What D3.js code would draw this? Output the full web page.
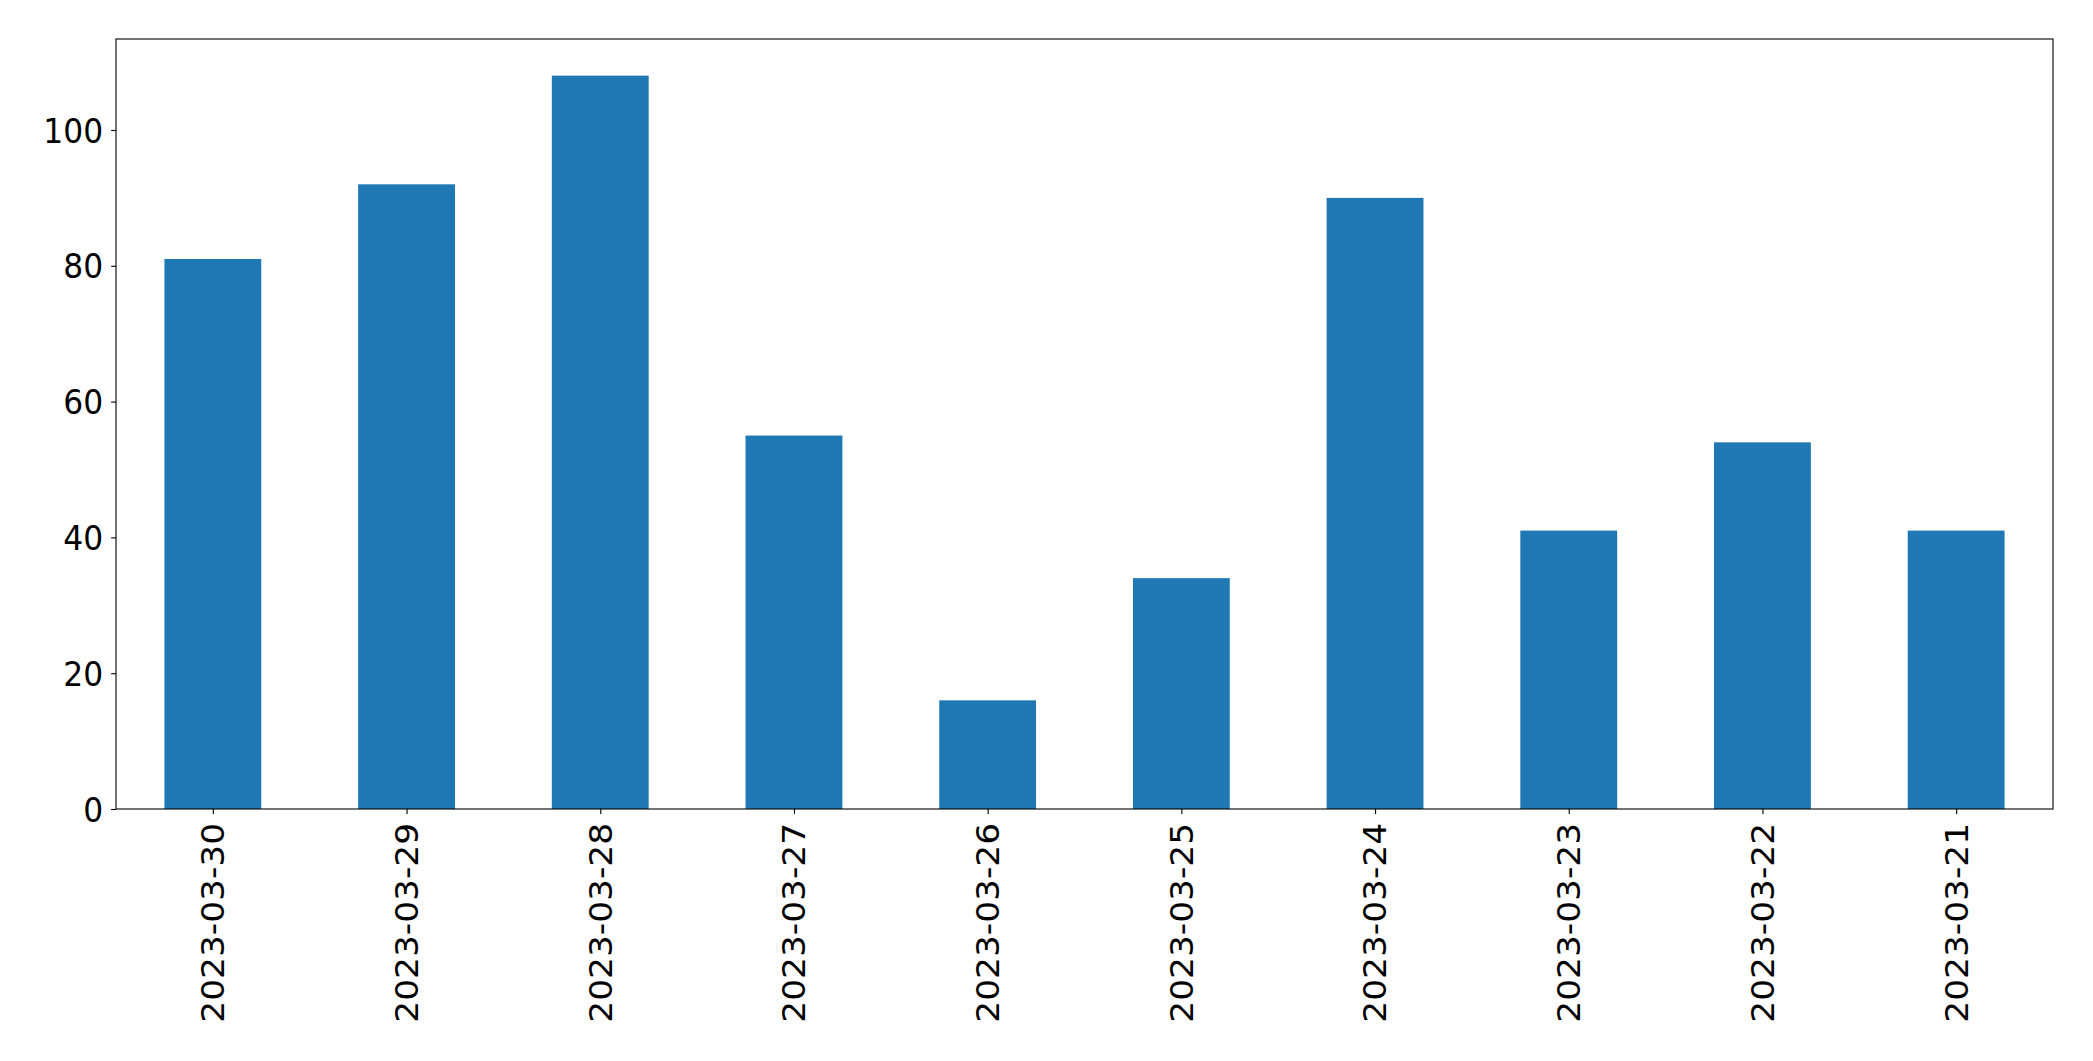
<!DOCTYPE html>
<html><head><meta charset="utf-8">
<script src="https://cdn.jsdelivr.net/npm/d3@7"></script>
<style>body{margin:0;background:#fff}svg{display:block}</style>
</head><body>
<script>
const categories = ["2023-03-30","2023-03-29","2023-03-28","2023-03-27","2023-03-26","2023-03-25","2023-03-24","2023-03-23","2023-03-22","2023-03-21"];
const values = [81, 92, 108, 55, 16, 34, 90, 41, 54, 41];
const yTicks = [0, 20, 40, 60, 80, 100];

const W = 2093, H = 1061;
const m = {left: 116, right: 2053, top: 39, bottom: 809};
const fs = 34.4;
const sx = 0.91;
const svg = d3.select("body").append("svg").attr("width", W).attr("height", H);

const x = d3.scaleLinear().domain([-0.5, categories.length - 0.5]).range([m.left, m.right]);
const ymax = d3.max(values) * 1.05;
const y = d3.scaleLinear().domain([0, ymax]).range([m.bottom, m.top]);

svg.append("g").selectAll("rect").data(values).join("rect")
  .attr("x", (d, i) => x(i - 0.25)).attr("width", (d, i) => x(i + 0.25) - x(i - 0.25))
  .attr("y", d => y(d)).attr("height", d => y(0) - y(d))
  .attr("fill", "#1f77b4");

const font = "DejaVu Sans, sans-serif";
const tickLen = 4.9, padX = 9, padY = 8;

const xAxis = d3.axisBottom(x).tickValues(d3.range(categories.length)).tickFormat(i => categories[i])
  .tickSize(tickLen).tickPadding(padX);
const gx = svg.append("g").attr("transform", `translate(0,${m.bottom})`).call(xAxis);
gx.select(".domain").remove();
gx.selectAll("line").attr("stroke", "#000").attr("stroke-width", 1.1);
gx.selectAll("text").attr("font-family", font).attr("font-size", fs).attr("fill", "#000")
  .attr("text-anchor", "end").attr("dy", null).attr("y", null)
  .attr("dominant-baseline", "central")
  .attr("transform", `translate(0,${tickLen + padX}) scale(${sx},1) rotate(-90)`);

const yAxis = d3.axisLeft(y).tickValues(yTicks).tickSize(tickLen).tickPadding(padY);
const gy = svg.append("g").attr("transform", `translate(${m.left},0)`).call(yAxis);
gy.select(".domain").remove();
gy.selectAll("line").attr("stroke", "#000").attr("stroke-width", 1.1);
gy.selectAll("text").attr("font-family", font).attr("font-size", fs).attr("fill", "#000")
  .attr("dy", null).attr("x", null).attr("dominant-baseline", "central")
  .attr("transform", `translate(${-(tickLen + padY)},0) scale(${sx},1)`);

svg.append("rect").attr("x", m.left).attr("y", m.top)
  .attr("width", m.right - m.left).attr("height", m.bottom - m.top)
  .attr("fill", "none").attr("stroke", "#000").attr("stroke-width", 1.1);
</script>
</body></html>
